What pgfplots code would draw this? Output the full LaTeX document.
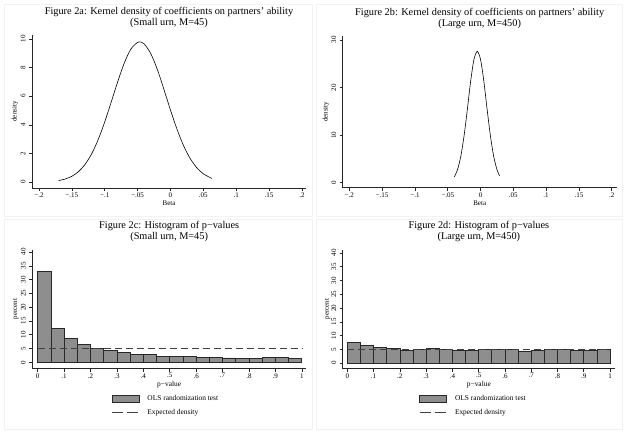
\documentclass[border=0pt]{standalone}
\usepackage{fontspec}
\setmainfont{Liberation Serif}
\usepackage{pgfplots}
\pgfplotsset{compat=1.18}
\definecolor{barfill}{RGB}{142,142,142}
\definecolor{baredge}{RGB}{40,40,40}
\definecolor{framec}{RGB}{242,242,242}
\pgfplotsset{stata/.style={
  scale only axis, axis lines=left,
  axis line style={-, black!85, line width=0.5pt},
  tick align=outside, major tick length=3pt,
  tick style={black!85, line width=0.5pt},
  minor tick num=0,
  every tick label/.append style={font=\fontsize{7}{8}\selectfont},
  xticklabel style={inner sep=1.5pt},
  yticklabel style={rotate=90, anchor=south},
  title style={font=\fontsize{10.3}{11}\selectfont, align=center,
    at={(axis description cs:0.5,1)}, anchor=center, yshift=12pt},
  clip=false,
}}
\begin{document}
\begin{tikzpicture}[x=1pt,y=1pt]
\useasboundingbox (0,0) rectangle (629,434);
\draw[framec, line width=0.4pt] (4,218) rectangle (312,430);
\draw[framec, line width=0.4pt] (316,218) rectangle (622,430);
\draw[framec, line width=0.4pt] (4,5) rectangle (312,215);
\draw[framec, line width=0.4pt] (316,5) rectangle (622,215);

% Panel a
\begin{axis}[stata, at={(32pt,246pt)}, anchor=south west,
  width=274pt, height=153pt,
  xmin=-0.2106, xmax=0.2061, ymin=-0.42, ymax=10.28,
  xtick={-0.2,-0.15,-0.1,-0.05,0,0.05,0.1,0.15,0.2},
  xticklabels={−.2,−.15,−.1,−.05,0,.05,.1,.15,.2},
  ytick={0,2,4,6,8,10}, yticklabels={0,2,4,6,8,10},
  xlabel={Beta}, ylabel={density},
  every axis x label/.style={at={(axis description cs:0.5,-0.1)}, anchor=center, font=\fontsize{7}{8}\selectfont},
  every axis y label/.style={at={(axis description cs:-0.062,0.5)}, rotate=90, anchor=center, font=\fontsize{7}{8}\selectfont},
  title={Figure 2a: Kernel density of coefficients on partners’ ability\\(Small urn, M=45)}]
\addplot[black, line width=0.6pt, smooth] coordinates {
(-0.170,0.10) (-0.160,0.21) (-0.150,0.40) (-0.140,0.72) (-0.130,1.23)
(-0.120,1.96) (-0.110,2.96) (-0.100,4.20) (-0.090,5.61) (-0.080,7.05)
(-0.070,8.35) (-0.060,9.31) (-0.050,9.77) (-0.047,9.80) (-0.040,9.66)
(-0.030,8.98) (-0.020,7.87) (-0.010,6.48) (0.000,5.03) (0.010,3.68)
(0.020,2.53) (0.030,1.64) (0.040,1.00) (0.050,0.57) (0.063,0.25)};
\end{axis}

% Panel b
\begin{axis}[stata, at={(342.7pt,246.3pt)}, anchor=south west,
  width=274pt, height=151.7pt,
  xmin=-0.2101, xmax=0.2076, ymin=-1.05, ymax=30.84,
  xtick={-0.2,-0.15,-0.1,-0.05,0,0.05,0.1,0.15,0.2},
  xticklabels={−.2,−.15,−.1,−.05,0,.05,.1,.15,.2},
  ytick={0,10,20,30}, yticklabels={0,10,20,30},
  xlabel={Beta}, ylabel={density},
  every axis x label/.style={at={(axis description cs:0.5,-0.105)}, anchor=center, font=\fontsize{7}{8}\selectfont},
  every axis y label/.style={at={(axis description cs:-0.061,0.5)}, rotate=90, anchor=center, font=\fontsize{7}{8}\selectfont},
  title={Figure 2b: Kernel density of coefficients on partners’ ability\\(Large urn, M=450)}]
\addplot[black, line width=0.6pt, smooth] coordinates {
(-0.040,1.21) (-0.035,2.78) (-0.030,5.60) (-0.025,9.95) (-0.020,15.5)
(-0.015,21.4) (-0.010,25.9) (-0.005,27.6) (0.000,25.9) (0.005,21.4)
(0.010,15.5) (0.015,9.95) (0.020,5.60) (0.025,2.78) (0.029,1.45)};
\end{axis}

% Panel c
\begin{axis}[stata, at={(32.3pt,65.3pt)}, anchor=south west,
  width=273.7pt, height=119pt,
  xmin=-0.0205, xmax=1.016, ymin=-2.32, ymax=40.83,
  xtick={0,0.1,0.2,0.3,0.4,0.5,0.6,0.7,0.8,0.9,1},
  xticklabels={0,.1,.2,.3,.4,.5,.6,.7,.8,.9,1},
  ytick={0,5,10,15,20,25,30,35,40}, yticklabels={0,5,10,15,20,25,30,35,40},
  xlabel={p−value}, ylabel={percent},
  every axis x label/.style={at={(axis description cs:0.5,-0.135)}, anchor=center, font=\fontsize{7.4}{8}\selectfont},
  every axis y label/.style={at={(axis description cs:-0.0596,0.5)}, rotate=90, anchor=center, font=\fontsize{7}{8}\selectfont},
  title={Figure 2c: Histogram of p−values\\(Small urn, M=45)},
  legend cell align=left,
  legend style={at={(axis description cs:0.29,-0.205)}, anchor=north west,
    draw=none, fill=none, inner sep=0pt, font=\fontsize{7.4}{8}\selectfont,
    row sep=3.5pt, /tikz/every odd column/.append style={column sep=6pt}}]
\addplot[ybar interval, fill=barfill, draw=baredge, line width=0.6pt,
  legend image code/.code={\draw[fill=barfill,draw=baredge,line width=0.6pt] (0pt,-3.5pt) rectangle (27pt,3.5pt);}]
coordinates {(0,33.0) (0.05,12.4) (0.1,8.75) (0.15,6.35) (0.2,5.05) (0.25,4.35)
(0.3,3.7) (0.35,3.0) (0.4,3.0) (0.45,2.25) (0.5,2.25) (0.55,2.2) (0.6,1.9)
(0.65,1.75) (0.7,1.6) (0.75,1.5) (0.8,1.5) (0.85,1.8) (0.9,1.8) (0.95,1.5) (1,0)};
\addlegendentry{OLS randomization test}
\addplot[black!75, dash pattern=on 7pt off 4pt, line width=0.6pt,
  legend image code/.code={\draw[black!75, dash pattern=on 11pt off 4pt, line width=0.6pt] (0pt,0pt) -- (27pt,0pt);}]
coordinates {(0,5) (1,5)};
\addlegendentry{Expected density}
\end{axis}

% Panel d
\begin{axis}[stata, at={(342.7pt,65.3pt)}, anchor=south west,
  width=272.3pt, height=119pt,
  xmin=-0.0175, xmax=1.019, ymin=-2.07, ymax=41.2,
  xtick={0,0.1,0.2,0.3,0.4,0.5,0.6,0.7,0.8,0.9,1},
  xticklabels={0,.1,.2,.3,.4,.5,.6,.7,.8,.9,1},
  ytick={0,5,10,15,20,25,30,35,40}, yticklabels={0,5,10,15,20,25,30,35,40},
  xlabel={p−value}, ylabel={percent},
  every axis x label/.style={at={(axis description cs:0.5,-0.135)}, anchor=center, font=\fontsize{7.4}{8}\selectfont},
  every axis y label/.style={at={(axis description cs:-0.055,0.5)}, rotate=90, anchor=center, font=\fontsize{7}{8}\selectfont},
  title={Figure 2d: Histogram of p−values\\(Large urn, M=450)},
  legend cell align=left,
  legend style={at={(axis description cs:0.281,-0.205)}, anchor=north west,
    draw=none, fill=none, inner sep=0pt, font=\fontsize{7.4}{8}\selectfont,
    row sep=3.5pt, /tikz/every odd column/.append style={column sep=6pt}}]
\addplot[ybar interval, fill=barfill, draw=baredge, line width=0.6pt,
  legend image code/.code={\draw[fill=barfill,draw=baredge,line width=0.6pt] (0pt,-3.5pt) rectangle (27pt,3.5pt);}]
coordinates {(0,7.5) (0.05,6.5) (0.1,5.8) (0.15,5.3) (0.2,4.7) (0.25,5.0)
(0.3,5.3) (0.35,5.0) (0.4,4.7) (0.45,4.7) (0.5,5.0) (0.55,4.85) (0.6,5.0)
(0.65,4.4) (0.7,4.5) (0.75,5.0) (0.8,4.85) (0.85,4.5) (0.9,4.5) (0.95,4.85) (1,0)};
\addlegendentry{OLS randomization test}
\addplot[black!75, dash pattern=on 7pt off 4pt, line width=0.6pt,
  legend image code/.code={\draw[black!75, dash pattern=on 11pt off 4pt, line width=0.6pt] (0pt,0pt) -- (27pt,0pt);}]
coordinates {(0,5) (1,5)};
\addlegendentry{Expected density}
\end{axis}
\end{tikzpicture}
\end{document}
